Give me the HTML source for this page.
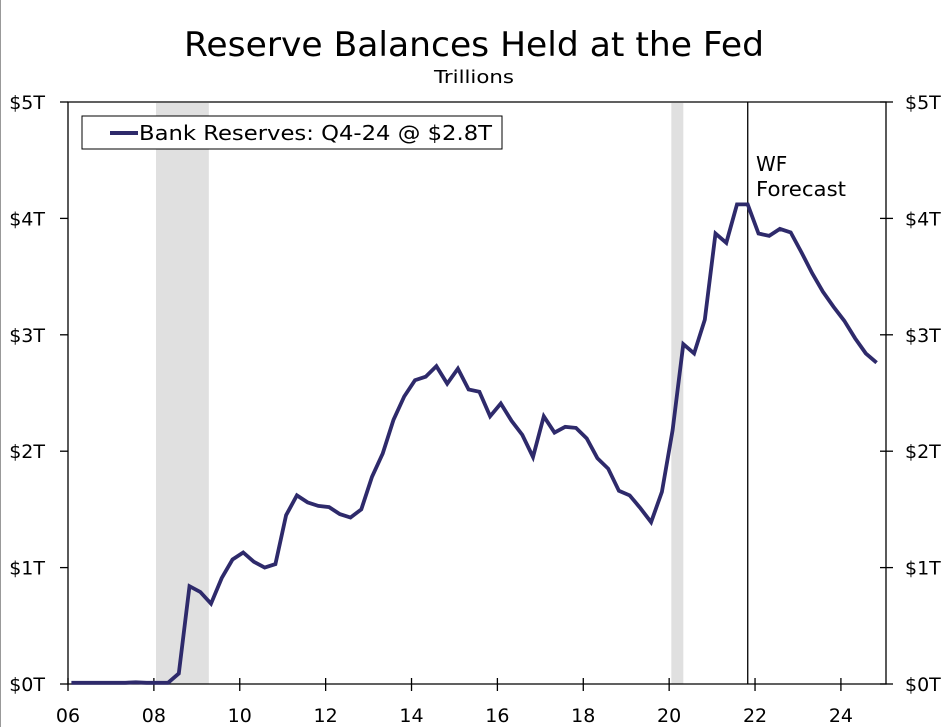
<!DOCTYPE html>
<html><head><meta charset="utf-8"><style>
html,body{margin:0;padding:0;background:#fff;}
svg{display:block;font-family:"DejaVu Sans","Liberation Sans",sans-serif;}
</style></head><body>
<svg id="chart" width="949" height="727" viewBox="0 0 949 727">
<line x1="0.5" y1="0" x2="0.5" y2="727" stroke="#999" stroke-width="1"/>
<text x="474" y="56" font-size="34" text-anchor="middle" textLength="580" lengthAdjust="spacingAndGlyphs">Reserve Balances Held at the Fed</text>
<text x="474" y="83" font-size="18" text-anchor="middle" textLength="80" lengthAdjust="spacingAndGlyphs">Trillions</text>
<g id="bands"></g>
<g id="grid"></g>
<g id="series"></g>
<g>
<rect x="82" y="116" width="420" height="33" fill="#fff" stroke="#000" stroke-width="1"/>
<line x1="110" y1="133" x2="138" y2="133" stroke="#2e2a6b" stroke-width="4"/>
<text x="139" y="140" font-size="20" textLength="353" lengthAdjust="spacingAndGlyphs">Bank Reserves: Q4-24 @ $2.8T</text>
</g>
<text x="756" y="171" font-size="20">WF</text>
<text x="756" y="196" font-size="20" textLength="90" lengthAdjust="spacingAndGlyphs">Forecast</text>
</svg>
<script>
const yTicks = [0,1,2,3,4,5];
const yTickLabels = ["$0T","$1T","$2T","$3T","$4T","$5T"];
const xTicks = [2006,2008,2010,2012,2014,2016,2018,2020,2022,2024];
const xTickLabels = ["06","08","10","12","14","16","18","20","22","24"];
const recessions = [[2008.05,2009.28],[2020.05,2020.33]];
const forecastStart = [2021.83];
const startYear = [2006.08];
const reserves = [0.01,0.01,0.01,0.01,0.01,0.01,0.015,0.01,0.01,0.01,
0.09,0.84,0.79,0.69,0.91,1.07,1.13,1.05,1.00,1.03,1.45,1.62,1.56,1.53,1.52,1.46,1.43,
1.50,1.78,1.98,2.27,2.47,2.61,2.64,2.73,2.58,2.71,2.53,2.51,2.30,2.41,2.26,2.14,1.95,2.30,2.16,2.21,2.20,2.11,1.94,1.85,1.66,1.62,1.51,1.39,
1.65,2.18,2.92,2.84,3.13,3.87,3.79,4.12,4.12,3.87,3.85,3.91,3.88,3.71,3.53,3.37,3.24,3.12,2.97,2.84,2.76];

const L=68,R=886,T=102,B=684,X0=2006,X1=2025.05;
const xs=t=>L+(t-X0)/(X1-X0)*(R-L);
const ys=v=>B-v/5*(B-T);
const NS="http://www.w3.org/2000/svg";
function mk(tag,attrs,parent){const e=document.createElementNS(NS,tag);for(const k in attrs)e.setAttribute(k,attrs[k]);parent.appendChild(e);return e;}
const bands=document.getElementById('bands'),grid=document.getElementById('grid'),series=document.getElementById('series');
recessions.forEach(r=>{
  const e=mk('rect',{x:xs(r[0]),y:T+1,width:xs(r[1])-xs(r[0]),height:B-T-1,fill:'#e0e0e0'},bands);
  
  
});
let ax=mk('path',{d:`M${L},${T}H${R}V${B}H${L}Z`,fill:'none',stroke:'#000','stroke-width':1.3},grid);


yTicks.forEach((v,i)=>{
  const y=ys(v);
  let t=mk('line',{x1:L-8,y1:y,x2:L,y2:y,stroke:'#000','stroke-width':1.3},grid);
  
  
  t=mk('line',{x1:R-6,y1:y,x2:R+7,y2:y,stroke:'#000','stroke-width':1.3},grid);
  
  
  let l=mk('text',{x:45,y:y+7,'font-size':19,'text-anchor':'end'},grid);l.textContent=yTickLabels[i];
  
  
  l=mk('text',{x:905,y:y+7,'font-size':19},grid);l.textContent=yTickLabels[i];
  
  
});
xTicks.forEach((v,i)=>{
  const x=xs(v);
  let t=mk('line',{x1:x,y1:B-6,x2:x,y2:B+7,stroke:'#000','stroke-width':1.3},grid);
  
  
  let l=mk('text',{x:x,y:722,'font-size':19,'text-anchor':'middle'},grid);l.textContent=xTickLabels[i];
  
  
});
const fx=xs(forecastStart[0]);
let fl=mk('line',{x1:fx,y1:T,x2:fx,y2:B,stroke:'#000','stroke-width':1.3},grid);


const pts=reserves.map((v,i)=>`${xs(startYear[0]+i*0.25).toFixed(1)},${ys(v).toFixed(1)}`).join(' ');
const line=mk('polyline',{points:pts,fill:'none',stroke:'#2e2a6b','stroke-width':3.8,'stroke-linejoin':'miter'},series);


</script>
</body></html>
